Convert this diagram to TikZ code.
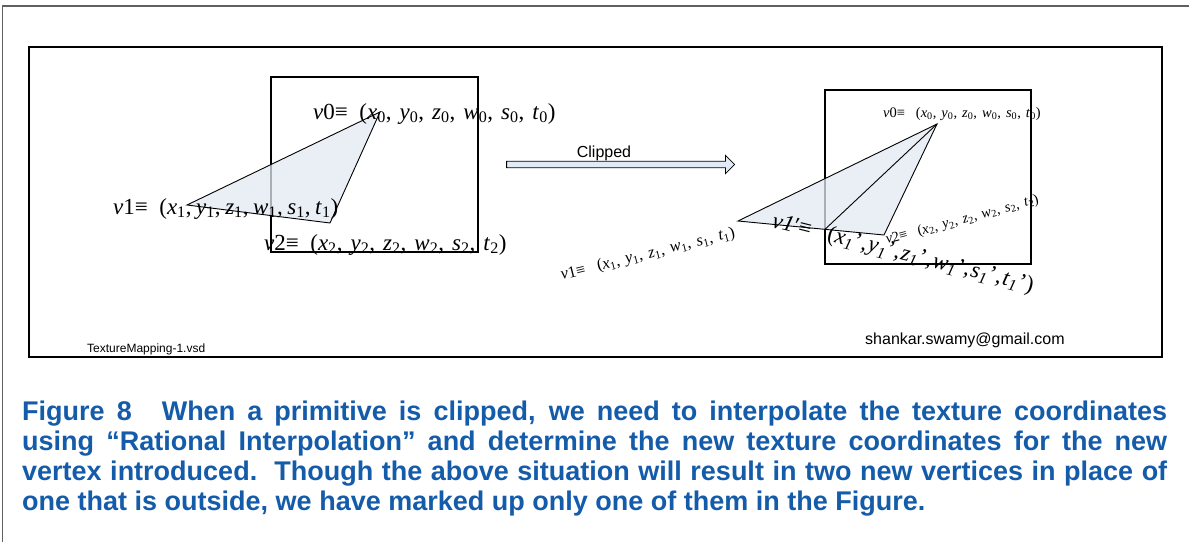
\documentclass[tikz,border=0pt]{standalone}
\usepackage{fontspec}
\setmainfont{Liberation Serif}
\newfontfamily\arialfont{Liberation Sans}
\usetikzlibrary{shapes.arrows}
\definecolor{capblue}{RGB}{20,92,170}
\definecolor{trifill}{RGB}{228,234,244}
\definecolor{arrowfill}{RGB}{226,234,246}
\definecolor{framegray}{RGB}{96,96,96}
\newcommand\vsub[2]{\textit{#1}\textsubscript{#2}}
\newcommand\vpr[2]{\textit{#1}\textsubscript{\textit{#2}}\kern0.03em'}
\newcommand\cm{,\kern0.35em}
\newcommand\cmn{,\kern0.2em}
\newcommand\cmp{,\kern0.05em}
\begin{document}
\begin{tikzpicture}[x=1pt,y=-1pt,
  frame/.style={draw=black,line width=2pt},
  tri/.style={fill=trifill,fill opacity=0.75,draw=black,line width=0.9pt,line join=miter},
  edge/.style={draw=black,line width=0.9pt},
  biglab/.style={inner sep=0pt,font=\fontsize{23}{25}\selectfont},
  smalllab/.style={inner sep=0pt,font=\fontsize{14.5}{16}\selectfont},
  sans/.style={inner sep=0pt,font=\arialfont}]
\useasboundingbox (0,0) rectangle (1189,541);
\fill[white] (0,0) rectangle (1189,541);
% outer frame
\draw[framegray,line width=1.5pt] (2.5,545) -- (2.5,6) -- (1195,6);
% inner frame
\draw[frame] (29,47) rectangle (1162,357);
% left square
\draw[frame] (271,77) rectangle (478,252);
% left triangle
\coordinate (a0) at (380,112);
\coordinate (a1) at (187,205);
\coordinate (a2) at (330,223);
\draw[tri] (a0) -- (a1) -- (a2) -- cycle;
% left labels
\node[biglab,anchor=base west] (la0) at (313,119) {\textit{v}0≡\ \ (\vsub{x}{0}\cm\vsub{y}{0}\cm\vsub{z}{0}\cm\vsub{w}{0}\cm\vsub{s}{0}\cm\vsub{t}{0})};
\node[biglab,anchor=base west] (la1) at (113,214) {\textit{v}1≡\ \ (\vsub{x}{1}\cmn\vsub{y}{1}\cmn\vsub{z}{1}\cmn\vsub{w}{1}\cmn\vsub{s}{1}\cmn\vsub{t}{1})};
\node[biglab,anchor=base west] (la2) at (264,250) {\textit{v}2≡\ \ (\vsub{x}{2}\cm\vsub{y}{2}\cm\vsub{z}{2}\cm\vsub{w}{2}\cm\vsub{s}{2}\cm\vsub{t}{2})};
% clipped arrow
\node[single arrow, draw=black, fill=arrowfill, line width=0.8pt,
      minimum height=228pt, minimum width=17.6pt, inner sep=2.8pt,
      single arrow head extend=6pt, single arrow tip angle=90] (clip) at (619,164.5) {};
\node[sans,anchor=base,font=\arialfont\fontsize{16}{18}\selectfont] (cliplab) at (604,157) {Clipped};
% right square
\draw[frame] (825,90) rectangle (1031,264);
% right triangle
\coordinate (b0) at (937,124);
\coordinate (b1) at (738,221);
\coordinate (b2) at (884,235);
\coordinate (b1p) at (825,229.3);
\draw[tri] (b0) -- (b1) -- (b2) -- cycle;
\draw[edge] (b0) -- (b1p);
% right labels
\node[smalllab,anchor=base west] (lb0) at (883,117) {\textit{v}0≡\ \ \ (\vsub{x}{0}\cm\vsub{y}{0}\cm\vsub{z}{0}\cm\vsub{w}{0}\cm\vsub{s}{0}\cm\vsub{t}{0})};
\node[smalllab,anchor=base west,rotate=15] (lb2) at (887,244) {\textit{v}2≡\ \ \ (\vsub{x}{2}\cm\vsub{y}{2}\cm\vsub{z}{2}\cm\vsub{w}{2}\cm\vsub{s}{2}\cm\vsub{t}{2})};
\node[smalllab,anchor=base west,rotate=14,font=\fontsize{16.5}{18}\selectfont] (lb1) at (562,280) {\textit{v}1≡\ \ \ (\vsub{x}{1}\cm\vsub{y}{1}\cm\vsub{z}{1}\cm\vsub{w}{1}\cm\vsub{s}{1}\cm\vsub{t}{1})};
\node[biglab,anchor=base west,rotate=-14] (lb1p) at (771,227) {\textit{v1}′≡\ \ \ (\vpr{x}{1}\cmp\vpr{y}{1}\cmp\vpr{z}{1}\cmp\vpr{w}{1}\cmp\vpr{s}{1}\cmp\vpr{t}{1})};
% footer texts
\node[sans,anchor=base west,font=\arialfont\fontsize{12}{14}\selectfont] (file) at (87,352) {TextureMapping-1.vsd};
\node[sans,anchor=base west,font=\arialfont\fontsize{16}{18}\selectfont] (mail) at (865,344) {shankar.swamy@gmail.com};
% caption
\node[inner sep=0pt,anchor=base west,text=capblue] (cap) at (22,420) {\parbox[t]{1145pt}{\arialfont\bfseries\fontsize{27}{30}\selectfont\parindent=0pt\rightskip=0pt
Figure 8\hspace*{30pt}When a primitive is clipped, we need to interpolate the texture coordinates\linebreak
using “Rational Interpolation” and determine the new texture coordinates for the new\linebreak
vertex introduced.\ \ Though the above situation will result in two new vertices in place of\linebreak
one that is outside, we have marked up only one of them in the Figure.}};
\end{tikzpicture}
\end{document}
